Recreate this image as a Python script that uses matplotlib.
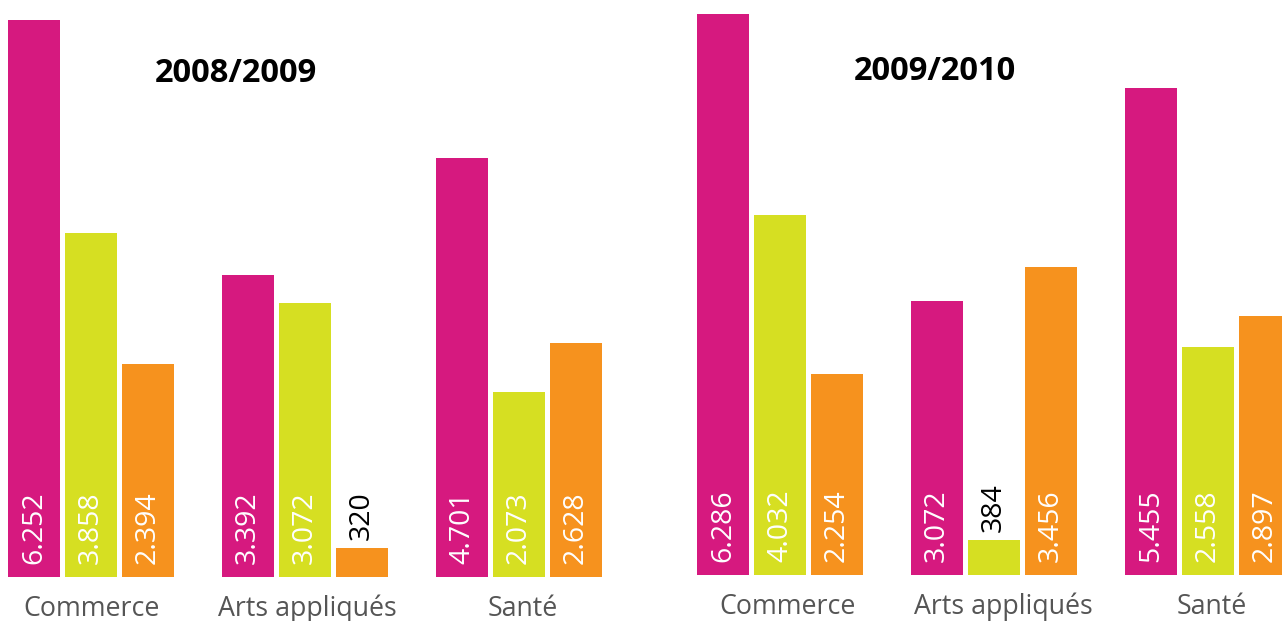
import matplotlib
matplotlib.use("Agg")
import matplotlib.pyplot as plt

categories = ["Commerce", "Arts appliqués", "Santé"]
years = ["2008/2009", "2009/2010"]
series_2008 = [[6252, 3392, 4701], [3858, 3072, 2073], [2394, 320, 2628]]
series_2009 = [[6286, 3072, 5455], [4032, 384, 2558], [2254, 3456, 2897]]
colors = ["#D6197F", "#D6DF22", "#F6921E"]

W, H = 1282, 621
fig = plt.figure(figsize=(W / 100, H / 100), dpi=100)
plt.rcParams['font.family'] = ['Open Sans', 'DejaVu Sans']

group_px = 214.0
bar_px = 52.0
pitch_px = 57.0
scale = 89.1 / 1000.0  # px per unit

panels = [
    dict(data=series_2008, year=years[0], left=0, right=641, base=44, c0=91,
         title=(236, 74), label_x=[92, 307, 523]),
    dict(data=series_2009, year=years[1], left=641, right=1282, base=46.5, c0=780,
         title=(935, 72), label_x=[788, 1003, 1212]),
]

def fmt(v):
    return f"{v:,}".replace(",", ".")

for p in panels:
    ax = fig.add_axes([p["left"] / W, p["base"] / H, (p["right"] - p["left"]) / W, (H - p["base"]) / H])
    ax.set_xlim((p["left"] - p["c0"]) / group_px, (p["right"] - p["c0"]) / group_px)
    ax.set_ylim(0, (H - p["base"]) / scale)
    ax.axis("off")
    w = bar_px / group_px
    step = pitch_px / group_px
    for s, vals in enumerate(p["data"]):
        xs = [i + (s - 1) * step for i in range(len(categories))]
        ax.bar(xs, vals, width=w, color=colors[s], clip_on=True)
        for x, v in zip(xs, vals):
            if v * scale > 90:
                ax.annotate(fmt(v), (x, 0), xytext=(0, 13), textcoords="offset pixels",
                            rotation=90, ha="center", va="bottom", color="white",
                            fontsize=20.5, fontweight="normal")
            else:
                ax.annotate(fmt(v), (x, v), xytext=(0, 8), textcoords="offset pixels",
                            rotation=90, ha="center", va="bottom", color="black",
                            fontsize=20.5, fontweight="normal")
    for i, c in enumerate(categories):
        dx = p["label_x"][i] - (p["c0"] + i * group_px)
        ax.annotate(c, (i, 0), xytext=(dx, -32), textcoords="offset pixels",
                    ha="center", va="center", color="#555555", fontsize=19.3)
    fig.text(p["title"][0] / W, 1 - p["title"][1] / H, p["year"], ha="center", va="center",
             fontsize=23.5, fontweight="bold", color="black")

fig.savefig("out.png", dpi=100)
